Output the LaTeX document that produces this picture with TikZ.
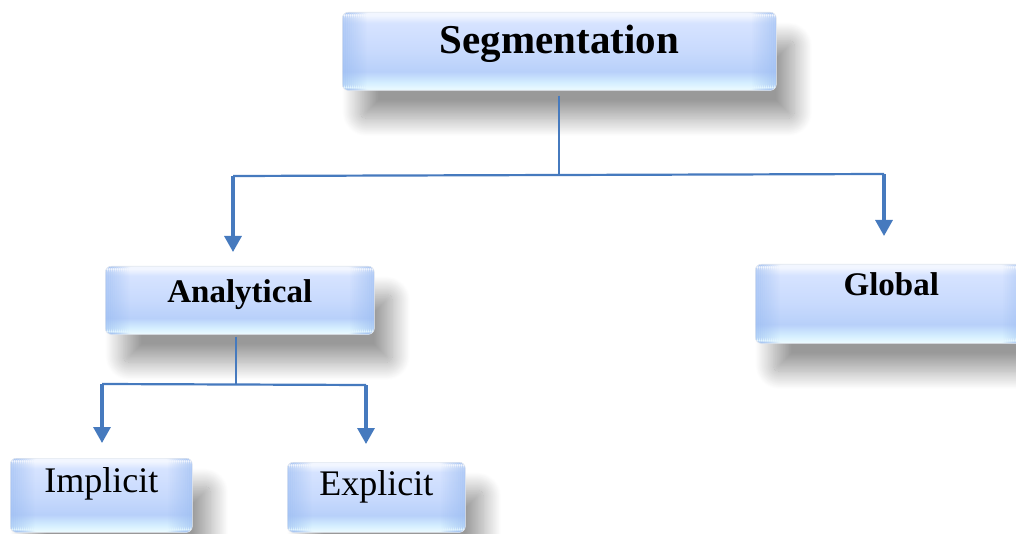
\documentclass[tikz,border=0pt]{standalone}
\usepackage{fontspec}
\setmainfont{Liberation Serif}
\usetikzlibrary{arrows.meta,shadows.blur,calc}

\definecolor{linkblue}{RGB}{70,122,190}
\definecolor{edgeblue}{RGB}{150,185,240}
\definecolor{rimgray}{RGB}{225,230,238}
\definecolor{shA}{RGB}{238,252,255}
\definecolor{shB}{RGB}{212,238,255}
\definecolor{shC}{RGB}{184,208,250}
\definecolor{shD}{RGB}{200,218,253}
\definecolor{shE}{RGB}{214,227,255}
\definecolor{shF}{RGB}{242,246,255}

% glossy bar fill, bottom (25bp) to top (75bp)
\pgfdeclareverticalshading{glossbar}{100bp}{%
  color(0bp)=(shA); color(25bp)=(shA); color(30bp)=(shB); color(37bp)=(shC);
  color(50bp)=(shD); color(68bp)=(shE); color(73bp)=(shF); color(75bp)=(shF);
  color(100bp)=(shF)}

% soft darker rims at both ends of a bar, built from thin translucent strips
\newcommand\barrims{%
  \foreach \k in {0,...,11}{%
    \pgfmathsetmacro\op{0.6*(1-\k/12)}%
    \fill[edgeblue, fill opacity=\op]
      ($(path picture bounding box.south west)+(2*\k pt,0)$) rectangle
      ($(path picture bounding box.north west)+(2*\k pt+2pt,0)$);
    \fill[edgeblue, fill opacity=\op]
      ($(path picture bounding box.south east)+(-2*\k pt,0)$) rectangle
      ($(path picture bounding box.north east)+(-2*\k pt-2pt,0)$);
  }}

\tikzset{
  bar/.style={
    shape=rectangle, rounded corners=6pt, inner sep=0pt,
    draw=rimgray, line width=0.6pt, shading=glossbar,
    blur shadow={shadow xshift=18pt, shadow yshift=-28pt,
                 shadow blur radius=18pt, shadow blur steps=30,
                 shadow opacity=40},
    path picture={\barrims}},
  treeline/.style={draw=linkblue, line width=2.2pt},
  treearrow/.style={draw=linkblue, line width=3.2pt,
               -{Triangle[width=17pt,length=16pt]}},
  bigtitle/.style={font=\bfseries\fontsize{41}{41}\selectfont},
  midtitle/.style={font=\bfseries\fontsize{33}{33}\selectfont},
  leaftitle/.style={font=\fontsize{36}{36}\selectfont},
}

\begin{document}
\begin{tikzpicture}[x=1pt,y=-1pt]
\useasboundingbox (0,0) rectangle (1016,534);

% boxes (text height / depth place the baseline inside each bar)
\node[bar, bigtitle, anchor=north west, minimum width=434pt,
      text height=41pt, text depth=37pt] (seg) at (342,12) {Segmentation};
\node[bar, midtitle, anchor=north west, minimum width=269pt,
      text height=36pt, text depth=32pt] (ana) at (105,266) {Analytical};
\node[bar, midtitle, anchor=north west, minimum width=272pt,
      text height=31pt, text depth=48pt] (glo) at (755,264) {Global};
\node[bar, leaftitle, anchor=north west, minimum width=182pt,
      text height=34pt, text depth=40pt] (imp) at (10,458) {Implicit};
\node[bar, leaftitle, anchor=north west, minimum width=178pt,
      text height=33pt, text depth=37pt] (exp) at (287,462) {Explicit};

% junction points of the tree
\coordinate (sj) at (559,175);
\coordinate (sl) at (233,176);
\coordinate (sr) at (884,174);
\coordinate (aj) at (236,384);
\coordinate (al) at (102,384);
\coordinate (ar) at (366,385);

% connectors from Segmentation
\draw[treeline, shorten <=5pt] (seg.south -| sj) -- (sj);
\draw[treeline] (sl) -- (sr);
\draw[treearrow, shorten >=14pt] (sl) -- (sl |- ana.north);
\draw[treearrow, shorten >=28pt] (sr) -- (sr |- glo.north);

% connectors from Analytical
\draw[treeline, shorten <=2pt] (ana.south -| aj) -- (aj);
\draw[treeline] (al) -- (ar);
\draw[treearrow, shorten >=15pt] (al) -- (al |- imp.north);
\draw[treearrow, shorten >=18pt] (ar) -- (ar |- exp.north);
\end{tikzpicture}
\end{document}
